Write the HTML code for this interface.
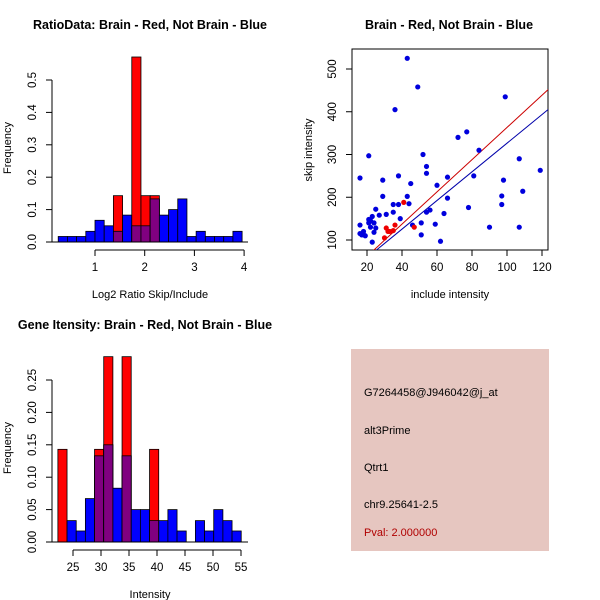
<!DOCTYPE html>
<html><head><meta charset="utf-8"><style>
body{margin:0;background:#fff}
svg{display:block;font-family:"Liberation Sans",sans-serif}
</style></head><body>
<svg id="s" width="600" height="600" xmlns="http://www.w3.org/2000/svg">
<rect width="600" height="600" fill="#fff"/>
<text x="150" y="29" font-size="12.5" font-weight="bold" text-anchor="middle">RatioData: Brain - Red, Not Brain - Blue</text>
<text x="449" y="29" font-size="12.5" font-weight="bold" text-anchor="middle">Brain - Red, Not Brain - Blue</text>
<text x="145" y="329" font-size="12.5" font-weight="bold" text-anchor="middle">Gene Itensity: Brain - Red, Not Brain - Blue</text>
<g>
<rect x="351" y="349" width="198" height="202" fill="#e6c6c0"/>
<text x="364" y="396" font-size="11">G7264458@J946042@j_at</text>
<text x="364" y="434" font-size="11">alt3Prime</text>
<text x="364" y="471" font-size="11">Qtrt1</text>
<text x="364" y="508" font-size="11">chr9.25641-2.5</text>
<text x="364" y="536" font-size="11" fill="#b00000">Pval: 2.000000</text>
</g>
</svg>
<script>
// ---- Ratio histogram data ----
const ratioStart = 0.26, ratioWidth = 0.185;
const ratioBlue = [0.017,0.017,0.017,0.033,0.067,0.05,0.033,0.083,0.05,0.05,0.133,0.083,0.1,0.133,0.017,0.033,0.017,0.017,0.017,0.033];
const ratioRed  = [0,0,0,0,0,0,0.143,0,0.571,0.143,0.143,0,0,0,0,0,0,0,0,0];
const ratioYTicks = [0,0.1,0.2,0.3,0.4,0.5];
const ratioYLabels = ["0.0","0.1","0.2","0.3","0.4","0.5"];
const ratioXTicks = [1,2,3,4];
// ---- Intensity histogram data ----
const intStart = 22.3, intWidth = 1.637;
const intBlue = [0,0.033,0.017,0.067,0.133,0.15,0.083,0.133,0.05,0.05,0.033,0.033,0.05,0.017,0,0.033,0.017,0.05,0.033,0.017];
const intRed  = [0.143,0,0,0,0.143,0.286,0,0.286,0,0,0.143,0,0,0,0,0,0,0,0,0];
const intYTicks = [0,0.05,0.1,0.15,0.2,0.25];
const intYLabels = ["0.00","0.05","0.10","0.15","0.20","0.25"];
const intXTicks = [25,30,35,40,45,50,55];
// ---- Scatter data ----
const blueX = [16,16,16,17,18,18,19,21,21,21,22,22,23,23,24,24,25,25,27,29,29,31,35,35,36,38,38,39,43,43,44,45,46,49,51,51,52,54,54,54,56,59,60,62,64,66,66,72,77,78,81,84,90,97,97,98,99,107,107,109,119];
const blueY = [245,135,115,112,120,113,110,297,148,140,145,130,155,95,140,118,172,128,158,240,202,160,183,165,405,250,183,150,525,202,185,232,135,458,140,112,300,272,256,165,170,137,228,97,162,247,198,340,353,176,250,310,130,203,183,240,435,290,130,214,263];
const redX = [30,31,32,33,35,36,41,47];
const redY = [105,128,120,120,122,135,188,130];
const redFit = [-13.7,3.77];
const blueFit = [-8.6,3.35];
const scXTicks = [20,40,60,80,100,120];
const scYTicks = [100,200,300,400,500];

const S = document.getElementById('s');
const NS = 'http://www.w3.org/2000/svg';
function mk(tag, attrs, parent){const e=document.createElementNS(NS,tag);for(const k in attrs)e.setAttribute(k,attrs[k]);(parent||S).appendChild(e);return e;}

function hist(cfg){
  const g = mk('g',{});
  
  
  const sx = v => cfg.x0 + (v - cfg.xa) * cfg.kx;
  const sy = v => cfg.y0 - v * cfg.ky;
  const n = cfg.blue.length;
  for (let i=0;i<n;i++){
    const a = cfg.start + i*cfg.width, b = a + cfg.width;
    const x1 = sx(a), x2 = sx(b);
    const bl = cfg.blue[i], rd = cfg.red[i];
    if (bl>0){const r=mk('rect',{x:x1,y:sy(bl),width:x2-x1,height:sy(0)-sy(bl),fill:'#0000ff',stroke:'#000','stroke-width':0.8},g);
      
      }
    if (rd>0){const r=mk('rect',{x:x1,y:sy(rd),width:x2-x1,height:sy(0)-sy(rd),fill:'#ff0000',stroke:'#000','stroke-width':0.8},g);
      
      
      const m=Math.min(bl,rd);
      if(m>0){const p=mk('rect',{x:x1,y:sy(m),width:x2-x1,height:sy(0)-sy(m),fill:'#800080',stroke:'#000','stroke-width':0.8},g);
        
        }}
  }
  mk('line',{x1:cfg.baseL,x2:cfg.baseR,y1:sy(0),y2:sy(0),stroke:'#000'},g);
  const yT=cfg.yTicks;
  mk('line',{x1:cfg.yAxisX,x2:cfg.yAxisX,y1:sy(yT[0]),y2:sy(yT[yT.length-1]),stroke:'#000'},g);
  yT.forEach((t,i)=>{
    mk('line',{x1:cfg.yAxisX-6,x2:cfg.yAxisX,y1:sy(t),y2:sy(t),stroke:'#000'},g);
    const tx=mk('text',{x:0,y:0,'font-size':11.5,'text-anchor':'middle',transform:`translate(${cfg.yAxisX-16},${sy(t)}) rotate(-90)`},g);
    tx.textContent=cfg.yLabels[i];
    
    
  });
  const xT=cfg.xTicks, ay=cfg.xAxisY;
  mk('line',{x1:sx(xT[0]),x2:sx(xT[xT.length-1]),y1:ay,y2:ay,stroke:'#000'},g);
  xT.forEach(t=>{
    mk('line',{x1:sx(t),x2:sx(t),y1:ay,y2:ay+6,stroke:'#000'},g);
    const tx=mk('text',{x:sx(t),y:ay+21,'font-size':11.5,'text-anchor':'middle'},g);
    tx.textContent=t;
    
    
  });
  const xl=mk('text',{x:cfg.xTitleX,y:cfg.xTitleY,'font-size':11,'text-anchor':'middle'},g);
  xl.textContent=cfg.xTitle;
  
  
  const yl=mk('text',{x:0,y:0,'font-size':11,'text-anchor':'middle',transform:`translate(11,${cfg.yTitleY}) rotate(-90)`},g);
  yl.textContent='Frequency';
  
  
}

hist({name:'ratio-histogram',x0:95,xa:1,kx:49.7,y0:242,ky:324,start:ratioStart,width:ratioWidth,blue:ratioBlue,red:ratioRed,
  baseL:49,baseR:248,yAxisX:52,yTicks:ratioYTicks,yLabels:ratioYLabels,xTicks:ratioXTicks,xAxisY:250,
  xTitle:'Log2 Ratio Skip/Include',xTitleX:150,xTitleY:298,yTitleY:148});
hist({name:'intensity-histogram',x0:73,xa:25,kx:5.6,y0:542,ky:648,start:intStart,width:intWidth,blue:intBlue,red:intRed,
  baseL:49,baseR:248,yAxisX:52,yTicks:intYTicks,yLabels:intYLabels,xTicks:intXTicks,xAxisY:550,
  xTitle:'Intensity',xTitleX:150,xTitleY:598,yTitleY:448});

(function(){
  const g=mk('g',{});
  
  
  const L=352,R=548,T=49,B=250;
  const sx=v=>367+(v-20)*1.75, sy=v=>240-(v-100)*0.4275;
  mk('rect',{x:L,y:T,width:R-L,height:B-T,fill:'none',stroke:'#000'},g);
  const cp=mk('clipPath',{id:'cp'},g);mk('rect',{x:L,y:T,width:R-L,height:B-T},cp);
  [[redFit,'#cc0000','red-fit-line'],[blueFit,'#0000aa','blue-fit-line']].forEach(([f,c,n])=>{
    const l=mk('line',{x1:sx(10),y1:sy(f[0]+f[1]*10),x2:sx(130),y2:sy(f[0]+f[1]*130),stroke:c,'stroke-width':1,'clip-path':'url(#cp)'},g);
    
    
  });
  blueX.forEach((x,i)=>{const c=mk('circle',{cx:sx(x),cy:sy(blueY[i]),r:2.6,fill:'#0000dd'},g);
    
    });
  redX.forEach((x,i)=>{const c=mk('circle',{cx:sx(x),cy:sy(redY[i]),r:2.6,fill:'#ee0000'},g);
    
    });
  scXTicks.forEach(t=>{mk('line',{x1:sx(t),x2:sx(t),y1:B,y2:B+6,stroke:'#000'},g);
    const tx=mk('text',{x:sx(t),y:B+21,'font-size':11.5,'text-anchor':'middle'},g);tx.textContent=t;
    
    });
  scYTicks.forEach(t=>{mk('line',{x1:L-6,x2:L,y1:sy(t),y2:sy(t),stroke:'#000'},g);
    const tx=mk('text',{x:0,y:0,'font-size':11.5,'text-anchor':'middle',transform:`translate(${L-16},${sy(t)}) rotate(-90)`},g);tx.textContent=t;
    
    });
  const xl=mk('text',{x:450,y:298,'font-size':11,'text-anchor':'middle'},g);xl.textContent='include intensity';
  
  
  const yl=mk('text',{x:0,y:0,'font-size':11,'text-anchor':'middle',transform:'translate(312,150) rotate(-90)'},g);yl.textContent='skip intensity';
  
  
})();
</script>
</body></html>
